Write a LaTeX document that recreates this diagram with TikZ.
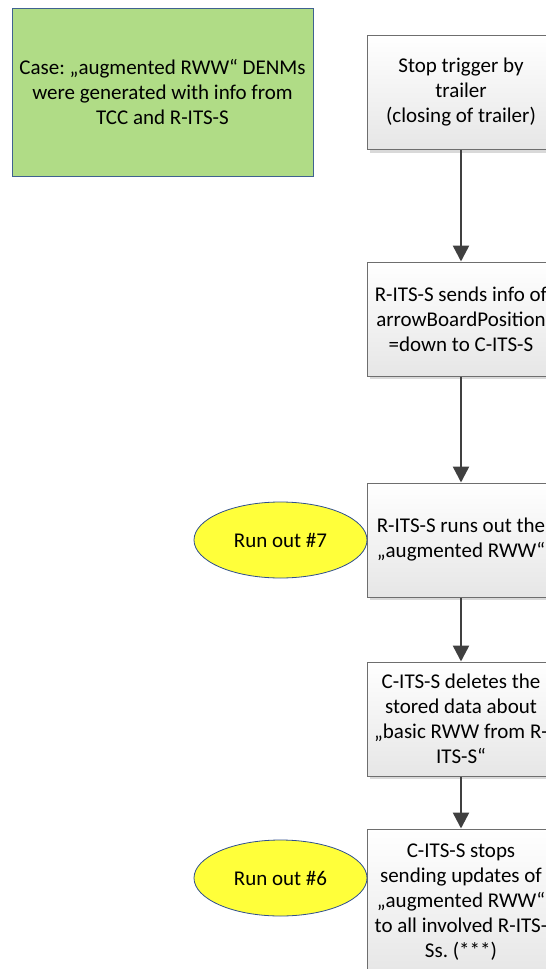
\documentclass[tikz,border=0pt]{standalone}
\usepackage{fontspec}
\setmainfont{Carlito}
\usetikzlibrary{arrows.meta,shapes.geometric,shadows}
\definecolor{casegreen}{HTML}{B0DC86}
\definecolor{caseline}{HTML}{3F6290}
\definecolor{boxline}{HTML}{6E6E6E}
\definecolor{boxshade}{HTML}{E6E6E6}
\definecolor{flowarrow}{HTML}{404040}
\definecolor{runyellow}{HTML}{FFFF3A}
\definecolor{runline}{HTML}{2F4F8F}
\frenchspacing
\tikzset{
  txt/.style={font=\fontsize{21}{25}\selectfont, align=center, text=black},
  casebox/.style={txt, rectangle, draw=caseline, line width=0.8pt, fill=casegreen,
    minimum width=301pt, minimum height=168pt, inner sep=0pt},
  stepbox/.style={txt, rectangle, draw=boxline, line width=1pt,
    top color=white, bottom color=boxshade,
    drop shadow={shadow xshift=3pt, shadow yshift=-3pt, fill=black!25, opacity=0.6},
    minimum width=188pt, minimum height=114pt, inner sep=0pt},
  runout/.style={txt, ellipse, draw=runline, line width=0.8pt, fill=runyellow,
    minimum width=173pt, minimum height=76pt, inner sep=0pt},
  flow/.style={draw=flowarrow, line width=2.5pt,
    -{Triangle[length=16pt,width=16pt]}}
}
\begin{document}
\begin{tikzpicture}[x=1pt,y=-1pt]
\useasboundingbox (0,0) rectangle (546,969);

% scenario description
\node[casebox] (case) at (162.5,92) {Case: „augmented RWW“ DENMs\\were generated with info from\\TCC and R-ITS-S};

% process steps
\node[stepbox] (s1) at (461,92.5) {Stop trigger by\\trailer\\(closing of trailer)};
\node[stepbox] (s2) at (461,319) {R-ITS-S sends info of\\arrowBoardPosition\\=down to C-ITS-S};
\node[stepbox] (s3) at (461,540) {R-ITS-S runs out the\\„augmented RWW“};
\node[stepbox] (s4) at (461,719) {C-ITS-S deletes the\\stored data about\\„basic RWW from R-\\ITS-S“};
\node[stepbox, minimum height=146pt] (s5) at (461,902) {C-ITS-S stops\\sending updates of\\„augmented RWW“\\to all involved R-ITS-\\Ss. (***)};

% run-out markers
\node[runout] (r7) at (280.5,540) {Run out \#7};
\node[runout] (r6) at (280.5,878) {Run out \#6};

% flow
\draw[flow] (s1) -- (s2);
\draw[flow] (s2) -- (s3);
\draw[flow] (s3) -- (s4);
\draw[flow] (s4) -- (s5);
\end{tikzpicture}
\end{document}
